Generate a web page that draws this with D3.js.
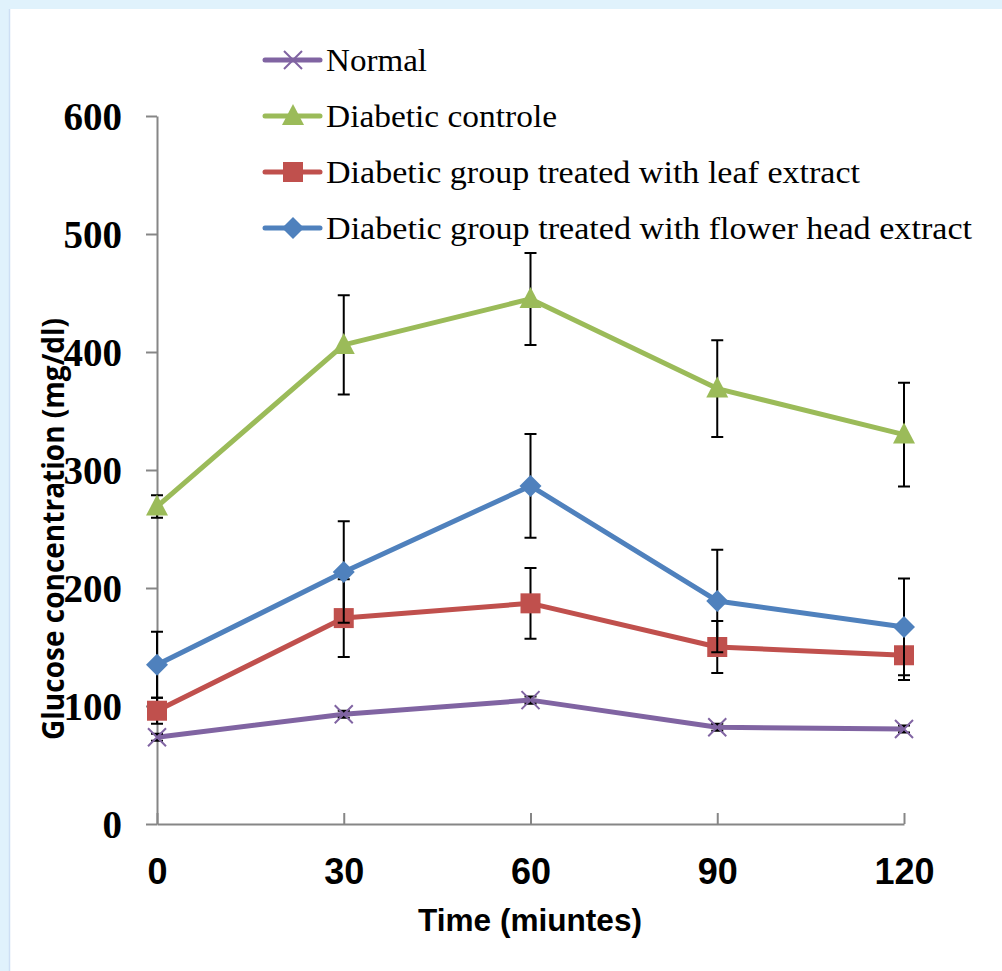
<!DOCTYPE html>
<html><head><meta charset="utf-8">
<script src="https://cdn.jsdelivr.net/npm/d3@7"></script>
<style>
html,body{margin:0;padding:0;background:#e0f2fc;}
svg{display:block;}
</style></head>
<body>
<svg id="chart" width="1002" height="971"></svg>
<script>
const times = [0, 30, 60, 90, 120];
const xTicks = [0, 30, 60, 90, 120];
const yTicks = [0, 100, 200, 300, 400, 500, 600];
const seriesNames = ["Normal", "Diabetic controle", "Diabetic group treated with leaf extract", "Diabetic group treated with flower head extract"];
const normalVals = [73.5, 93, 105, 82, 80.5];
const normalErr = [3, 3, 3, 3, 3];
const controlVals = [269, 406, 445, 369, 330];
const controlErr = [9.5, 42, 39, 41, 44];
const leafVals = [96, 174.5, 187, 150, 143];
const leafErr = [11, 33, 30, 22, 21];
const flowerVals = [135, 213.5, 286.5, 189, 167];
const flowerErr = [28, 43, 44, 43.5, 41];

const series = [
  {name: seriesNames[0], vals: normalVals, err: normalErr, color: "#8064A2", marker: "x", textLen: 101},
  {name: seriesNames[1], vals: controlVals, err: controlErr, color: "#9BBB59", marker: "tri", textLen: 231},
  {name: seriesNames[2], vals: leafVals, err: leafErr, color: "#C0504D", marker: "sq", textLen: 534},
  {name: seriesNames[3], vals: flowerVals, err: flowerErr, color: "#4F81BD", marker: "dia", textLen: 646}
];

const svg = d3.select("#chart");
svg.append("rect").attr("x", 9).attr("y", 9).attr("width", 1002 - 9).attr("height", 971 - 9).attr("fill", "#ffffff");
svg.append("line").attr("x1", 9.5).attr("x2", 9.5).attr("y1", 9).attr("y2", 971).attr("stroke", "#cddff4").attr("stroke-width", 1.5);

const x = d3.scaleLinear().domain([0, 120]).range([157, 904]);
const y = d3.scaleLinear().domain([0, 600]).range([824, 116]);

// Y axis
const yAxis = svg.append("g").attr("transform", `translate(${x(0)},0)`)
  .call(d3.axisLeft(y).tickValues(yTicks).tickSize(11).tickPadding(24).tickSizeOuter(0));
yAxis.select(".domain").attr("stroke", "#868686").attr("stroke-width", 2);
yAxis.selectAll(".tick line").attr("stroke", "#868686").attr("stroke-width", 2);
yAxis.selectAll(".tick text").attr("fill", "#000").attr("font-family", "'Liberation Serif', 'DejaVu Serif', serif")
  .attr("font-weight", "bold").attr("font-size", 39).attr("dy", "0.34em");

// X axis
const xAxis = svg.append("g").attr("transform", `translate(0,${y(0)})`)
  .call(d3.axisBottom(x).tickValues(xTicks).tickSize(-11).tickPadding(0).tickSizeOuter(0));
xAxis.select(".domain").attr("stroke", "#868686").attr("stroke-width", 2);
xAxis.selectAll(".tick line").attr("stroke", "#868686").attr("stroke-width", 2);
xAxis.selectAll(".tick text").attr("fill", "#000")
  .attr("font-family", "'Liberation Sans Narrow', 'Liberation Sans', Arial, sans-serif")
  .attr("font-weight", "bold").attr("font-size", 36).attr("y", 60).attr("dy", 0);

// Axis titles
svg.append("text").attr("x", 530).attr("y", 931).attr("text-anchor", "middle")
  .attr("font-family", "'Liberation Sans Narrow', 'Liberation Sans', Arial, sans-serif")
  .attr("font-weight", "bold").attr("font-size", 32).attr("textLength", 224).attr("lengthAdjust", "spacingAndGlyphs")
  .text("Time (miuntes)");
svg.append("text").attr("transform", "translate(64,529) rotate(-90)").attr("text-anchor", "middle")
  .attr("font-family", "'Open Sans', 'Liberation Sans', sans-serif")
  .attr("font-weight", "bold").attr("font-size", 30).attr("textLength", 422).attr("lengthAdjust", "spacingAndGlyphs")
  .text("Glucose concentration (mg/dl)");

function drawMarker(g, type, color, cx, cy) {
  if (type === "x") {
    const s = 9;
    g.append("path").attr("d", `M${cx - s},${cy - s}L${cx + s},${cy + s}M${cx - s},${cy + s}L${cx + s},${cy - s}`)
      .attr("stroke", color).attr("stroke-width", 2).attr("fill", "none");
  } else if (type === "tri") {
    g.append("path").attr("d", `M${cx},${cy - 12}L${cx + 11},${cy + 9}L${cx - 11},${cy + 9}Z`).attr("fill", color);
  } else if (type === "sq") {
    g.append("rect").attr("x", cx - 10).attr("y", cy - 10).attr("width", 20).attr("height", 20).attr("fill", color);
  } else if (type === "dia") {
    g.append("path").attr("d", `M${cx},${cy - 11}L${cx + 11},${cy}L${cx},${cy + 11}L${cx - 11},${cy}Z`).attr("fill", color);
  }
}

const line = d3.line().x((d, i) => x(times[i])).y(d => y(d));

series.forEach(s => {
  const g = svg.append("g");
  g.append("path").datum(s.vals).attr("d", line).attr("fill", "none").attr("stroke", s.color)
    .attr("stroke-width", 5).attr("stroke-linejoin", "round");
  s.vals.forEach((v, i) => {
    const cx = x(times[i]);
    const top = y(v + s.err[i]), bot = y(v - s.err[i]);
    g.append("path").attr("d", `M${cx},${top}L${cx},${bot}M${cx - 6},${top}L${cx + 6},${top}M${cx - 6},${bot}L${cx + 6},${bot}`)
      .attr("stroke", "#000").attr("stroke-width", 2).attr("fill", "none");
  });
  s.vals.forEach((v, i) => drawMarker(g, s.marker, s.color, x(times[i]), y(v)));
});

// Legend
const legY0 = 60, legStep = 56;
series.forEach((s, i) => {
  const ly = legY0 + i * legStep;
  const g = svg.append("g");
  g.append("line").attr("x1", 265).attr("x2", 320).attr("y1", ly).attr("y2", ly)
    .attr("stroke", s.color).attr("stroke-width", 5).attr("stroke-linecap", "round");
  drawMarker(g, s.marker, s.color, 293, ly);
  g.append("text").attr("x", 326).attr("y", ly + 11)
    .attr("font-family", "'Liberation Serif', 'DejaVu Serif', serif").attr("font-size", 32)
    .attr("textLength", s.textLen).attr("lengthAdjust", "spacingAndGlyphs")
    .text(s.name);
});
</script>
</body></html>
